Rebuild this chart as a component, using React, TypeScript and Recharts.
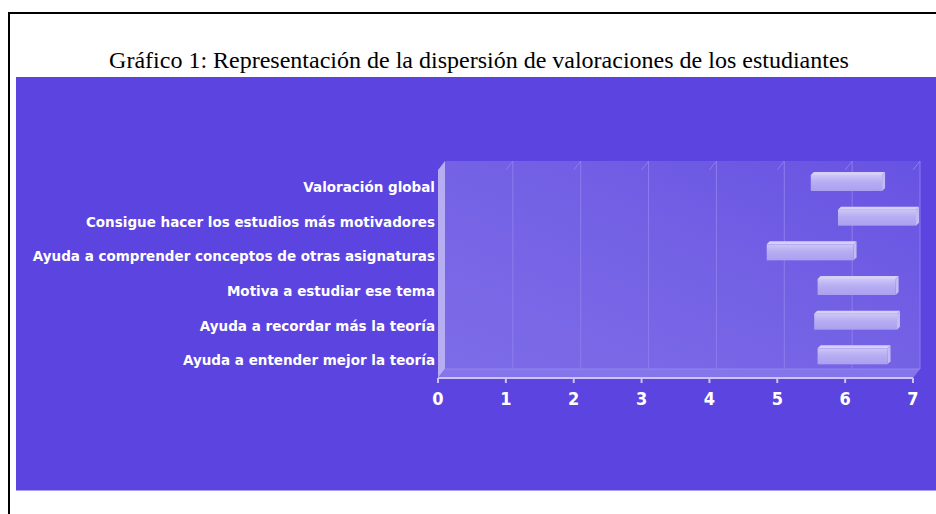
// @ts-nocheck
import React from 'react';
import { BarChart, Bar, XAxis, YAxis, ReferenceArea, ReferenceLine } from 'recharts';

const categories = [
  'Valoración global',
  'Consigue hacer los estudios más motivadores',
  'Ayuda a comprender conceptos de otras asignaturas',
  'Motiva a estudiar ese tema',
  'Ayuda a recordar más la teoría',
  'Ayuda a entender mejor la teoría',
];
const lows = [5.45, 5.85, 4.8, 5.55, 5.5, 5.55];
const highs = [6.5, 7.0, 6.08, 6.7, 6.72, 6.58];
const xTicks = [0, 1, 2, 3, 4, 5, 6, 7];
const gridTicks = [1, 2, 3, 4, 5, 6, 7];

const data = categories.map((name, i) => ({ name, range: [lows[i], highs[i]] }));

// depth of the fake 3d box
const DX = 7;
const DY = -9;

const Walls = ({ x, y, width, height }) => {
  const b = y + height;
  const r = x + width;
  return (
    <g>
      <rect x={x + DX} y={y + DY} width={width} height={height} fill="url(#wallGrad)" />
      <polygon
        points={`${x},${y} ${x + DX},${y + DY} ${x + DX},${b + DY} ${x},${b}`}
        fill="#b7adf3"
      />
      <polygon
        points={`${x},${b} ${r},${b} ${r + DX},${b + DY} ${x + DX},${b + DY}`}
        fill="#8575ea"
      />
      <line x1={x + DX} y1={b + DY} x2={r + DX} y2={b + DY} stroke="#9385ee" strokeWidth={1} />
    </g>
  );
};

const GridLine = ({ x1, y1, x2, y2 }) => (
  <g stroke="#8c7dec" strokeWidth={1}>
    <line x1={x1 + DX} y1={y1 + DY} x2={x2 + DX} y2={y2 + DY} />
    <line x1={x2} y1={y2} x2={x2 + DX} y2={y2 + DY} />
  </g>
);

const Bar3D = ({ x, y, width, height }) => {
  if (width == null || height == null) return null;
  const fx = x + 3;
  const fy = y - 4;
  const d = 3;
  return (
    <g>
      <polygon
        points={`${fx},${fy} ${fx + d},${fy - d} ${fx + width + d},${fy - d} ${fx + width},${fy}`}
        fill="#d6d0f8"
      />
      <polygon
        points={`${fx + width},${fy} ${fx + width + d},${fy - d} ${fx + width + d},${fy - d + height} ${fx + width},${fy + height}`}
        fill="#c3bbf5"
      />
      <rect x={fx} y={fy} width={width} height={height} fill="url(#barGrad)" />
    </g>
  );
};

export default function App() {
  return (
    <div style={{ position: 'absolute', left: 0, top: 0, width: 936, height: 514, overflow: 'hidden', background: '#fff' }}>
      <div
        style={{
          position: 'absolute',
          left: 8,
          top: 12,
          width: 1000,
          height: 600,
          borderTop: '2px solid #000',
          borderLeft: '2px solid #000',
        }}
      />
      <div
        style={{
          position: 'absolute',
          left: 20,
          top: 46,
          width: 918,
          textAlign: 'center',
          fontFamily: '"Liberation Serif", serif',
          fontSize: 24,
          lineHeight: '28px',
          color: '#000',
        }}
      >
        Gráfico 1: Representación de la dispersión de valoraciones de los estudiantes
      </div>
      <div
        style={{
          position: 'absolute',
          left: 16,
          top: 77,
          width: 920,
          height: 414,
          background: '#5b44e0',
          borderBottom: '1px solid #a99ff0',
          boxSizing: 'border-box',
        }}
      >
        <BarChart
          width={920}
          height={414}
          layout="vertical"
          data={data}
          barSize={16}
          margin={{ top: 93, right: 23, bottom: 83, left: 0 }}
        >
          <defs>
            <linearGradient id="wallGrad" x1="0" y1="1" x2="1" y2="0">
              <stop offset="0%" stopColor="#7d6ce8" />
              <stop offset="50%" stopColor="#7462e5" />
              <stop offset="100%" stopColor="#6753e2" />
            </linearGradient>
            <linearGradient id="barGrad" x1="0" y1="0" x2="0" y2="1">
              <stop offset="0%" stopColor="#cdc6f7" />
              <stop offset="45%" stopColor="#b6adf2" />
              <stop offset="100%" stopColor="#aaa0ef" />
            </linearGradient>
          </defs>
          <ReferenceArea x1={0} x2={7} shape={Walls} zIndex={50} ifOverflow="visible" />
          {gridTicks.map((t) => (
            <ReferenceLine key={t} x={t} shape={GridLine} zIndex={150} ifOverflow="visible" />
          ))}
          <XAxis
            type="number"
            domain={[0, 7]}
            ticks={xTicks}
            height={30}
            tickSize={5}
            tickMargin={9}
            axisLine={{ stroke: '#cbc3f7', strokeWidth: 2 }}
            tickLine={{ stroke: '#cbc3f7', strokeWidth: 2 }}
            tick={{
              fill: '#ffffff',
              fontFamily: '"DejaVu Sans Condensed", "DejaVu Sans", sans-serif',
              fontWeight: 'bold',
              fontSize: 18,
            }}
          />
          <YAxis
            type="category"
            dataKey="name"
            width={422}
            axisLine={false}
            tickLine={false}
            tickSize={0}
            tickMargin={3}
            interval={0}
            tick={{
              fill: '#ffffff',
              fontFamily: '"DejaVu Sans", sans-serif',
              fontWeight: 'bold',
              fontSize: 13.5,
            }}
          />
          <Bar dataKey="range" shape={Bar3D} isAnimationActive={false} />
        </BarChart>
      </div>
    </div>
  );
}
